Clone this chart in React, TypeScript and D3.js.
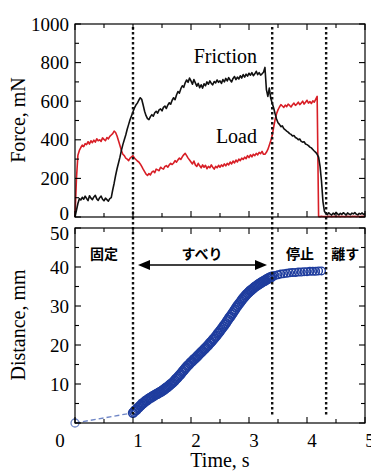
import React from "react";
import * as d3 from "d3";

const TIME_STEP = 0.025;

const friction = [
  0, 35, 70, 95, 88,
  102, 92, 108, 96, 85, 110, 98, 90, 104, 112, 94, 86, 100, 108, 92, 84, 98, 90, 82, 95,
  100, 140, 175, 215, 250, 280, 310, 345, 375, 400, 425, 455, 480, 505, 525, 545,
  565, 580, 590, 605, 618, 610, 580, 548, 525, 510, 505, 520,
  530, 522, 540, 548, 538, 555, 560, 550, 568, 575, 562, 580, 592, 585, 605, 618, 608, 632, 650, 642, 665, 680, 672, 695,
  710, 698, 720, 705, 688, 712, 695, 678, 692, 670, 685, 668, 690, 680, 700, 688, 705, 692, 685, 702,
  695, 710, 698, 705, 692, 712, 700, 718, 705, 722, 710, 700, 718, 728, 712, 725, 715, 732, 720, 738,
  725, 740, 730, 745, 735, 748, 732, 742, 755, 738, 748, 735, 742, 750,
  775, 660, 625, 668, 615, 590, 565, 535, 508, 488, 480, 468, 472, 458, 452, 445, 440, 432, 428, 420,
  422, 412, 408, 400, 404, 392, 388, 390, 378, 375, 370, 362, 358, 350, 342, 335, 325, 310, 262, 185,
  80, 30,
  18, 12, 22, 15, 10, 20, 14, 24, 16, 11, 19, 13, 22, 17, 10, 21, 15, 12, 20, 16, 23, 14, 11, 19, 15, 21, 13, 18,
];

const load = [
  0, 200, 320, 345, 360,
  372, 365, 380, 375, 390, 378, 395, 385, 398, 388, 405, 395, 400, 392, 410, 402, 395, 412, 405, 418,
  425, 432, 445, 438, 420, 395, 370, 345, 325, 318, 305, 300, 292, 305, 312, 318,
  305, 298, 290, 285, 275, 262, 248, 235, 222, 215, 225, 218,
  232, 238, 230, 248, 244, 240, 258, 252, 248, 262, 266, 258, 270, 278, 272, 280, 292, 284, 296, 305, 298, 312, 322, 330,
  318, 305, 295, 285, 275, 290, 270, 262, 278, 265, 255, 270, 258, 268, 250, 262, 255, 270, 258, 248,
  262, 255, 268, 258, 270, 262, 275, 265, 278, 270, 285, 275, 290, 280, 295, 285, 300, 292, 305, 298,
  310, 302, 318, 308, 322, 312, 325, 318, 330, 322, 335, 328, 340, 325,
  325, 335, 350, 372, 395, 422, 465, 505, 535, 555, 570, 582, 575, 568, 580, 572, 585, 578, 570, 582,
  590, 578, 585, 595, 582, 590, 600, 585, 595, 605, 590, 598, 588, 602, 595, 610, 625, 3, 2, 4,
  3, 2,
  3, 2, 4, 3, 2, 3, 4, 2, 3, 3, 2, 4, 3, 2, 3, 4, 3, 2, 3, 3, 4, 2, 3, 3, 2, 4, 3, 3,
];

// distance during sliding: t = 1.00 .. 3.40, every 0.02 s
const SLIP_START = 1.0;
const SLIP_STEP = 0.02;
const slipDistance = [
  2.6, 2.9, 3.3, 3.4, 3.8, 4.0, 4.4, 4.6, 5.0, 5.1,
  5.4, 5.7, 5.8, 6.1, 6.3, 6.5, 6.6, 6.9, 7.0, 7.2,
  7.4, 7.5, 7.7, 7.9, 8.0, 8.2, 8.5, 8.6, 8.9, 9.1,
  9.3, 9.6, 9.8, 10.1, 10.3, 10.6, 10.9, 11.3, 11.5, 11.9,
  12.2, 12.5, 12.9, 13.3, 13.6, 14.0, 14.3, 14.7, 14.9, 15.3,
  15.6, 15.8, 16.2, 16.4, 16.7, 17.0, 17.3, 17.6, 17.9, 18.2,
  18.5, 18.8, 19.1, 19.4, 19.7, 20.0, 20.4, 20.7, 21.0, 21.4,
  21.7, 22.1, 22.4, 22.9, 23.2, 23.6, 24.0, 24.4, 24.8, 25.2,
  25.6, 26.1, 26.5, 27.0, 27.3, 27.8, 28.2, 28.7, 29.1, 29.6,
  30.0, 30.4, 30.8, 31.2, 31.6, 32.0, 32.3, 32.7, 33.0, 33.3,
  33.6, 33.9, 34.1, 34.4, 34.6, 34.9, 35.1, 35.3, 35.5, 35.7,
  35.9, 36.1, 36.3, 36.4, 36.6, 36.8, 37.0, 37.1, 37.3, 37.4,
  37.6,
];

// distance while stopped: t = 3.45 .. 4.25, every 0.05 s
const STOP_START = 3.45;
const STOP_STEP = 0.05;
const stopDistance = [
  37.8, 38.0, 38.2, 38.3, 38.4, 38.5, 38.6, 38.6, 38.7, 38.7, 38.8, 38.8, 38.9, 38.9, 38.9, 39.0, 39.0,
];

// approach segment (dashed)
const approachTimes = [0, 1.0];
const approachDistance = [0, 2.6];

const boundaryTimes = [1.0, 3.4, 4.33];
const forceTicks = [0, 200, 400, 600, 800, 1000];
const distanceTicks = [10, 20, 30, 40, 50];
const timeTicks = [0, 1, 2, 3, 4, 5];
const phaseLabels = ["固定", "すべり", "停止", "離す"];
const seriesLabels = ["Friction", "Load"];

const SERIF = "'Liberation Serif', 'Times New Roman', serif";
const JP = "'Noto Sans CJK JP', sans-serif";

export default function App() {
  const x = d3.scaleLinear().domain([0, 5]).range([75, 365]);
  const yF = d3.scaleLinear().domain([0, 1000]).range([217, 24]);
  const yD = d3.scaleLinear().domain([0, 50]).range([423, 228]);

  const forceLine = d3
    .line<number>()
    .x((_, i) => x(i * TIME_STEP))
    .y((d) => yF(d));

  const approachLine = d3
    .line<number>()
    .x((_, i) => x(approachTimes[i]))
    .y((d) => yD(d));

  const slipPts = slipDistance.map((d, i) => [x(SLIP_START + i * SLIP_STEP), yD(d)]);
  const stopPts = stopDistance.map((d, i) => [x(STOP_START + i * STOP_STEP), yD(d)]);

  const xMinor = d3.range(0, 5.001, 0.5);
  const fMinor = d3.range(0, 1000.1, 100);
  const dMinor = d3.range(0, 50.1, 5);

  const tickLines: React.ReactElement[] = [];
  const addXTicks = (yBottom: number, yTop: number, key: string) => {
    xMinor.forEach((t) => {
      const major = Math.abs(t - Math.round(t)) < 1e-6;
      const len = major ? 6 : 4;
      const px = x(t);
      tickLines.push(
        <line key={`${key}b${t}`} x1={px} x2={px} y1={yBottom} y2={yBottom - len} stroke="#000" strokeWidth={1.1} />,
        <line key={`${key}t${t}`} x1={px} x2={px} y1={yTop} y2={yTop + len} stroke="#000" strokeWidth={1.1} />
      );
    });
  };
  const addYTicks = (vals: number[], scale: (v: number) => number, majorStep: number, key: string) => {
    vals.forEach((v) => {
      const major = Math.abs(v / majorStep - Math.round(v / majorStep)) < 1e-6;
      const len = major ? 6 : 4;
      const py = scale(v);
      tickLines.push(
        <line key={`${key}l${v}`} x1={75} x2={75 + len} y1={py} y2={py} stroke="#000" strokeWidth={1.1} />,
        <line key={`${key}r${v}`} x1={365} x2={365 - len} y1={py} y2={py} stroke="#000" strokeWidth={1.1} />
      );
    });
  };
  addXTicks(217, 24, "tx");
  addXTicks(423, 228, "bx");
  addYTicks(fMinor, yF, 200, "fy");
  addYTicks(dMinor, yD, 10, "dy");

  const arrowY = 265;
  const arrowL = 138;
  const arrowR = 267;

  return (
    <div style={{ position: "absolute", left: 0, top: 0, background: "#fff" }}>
      <svg width={371} height={472} style={{ display: "block" }}>
        <rect x={0} y={0} width={371} height={472} fill="#fff" />

        {/* Force lines */}
        <path d={forceLine(load) || ""} fill="none" stroke="#d81e26" strokeWidth={1.6} strokeLinejoin="round" />
        <path d={forceLine(friction) || ""} fill="none" stroke="#111" strokeWidth={1.6} strokeLinejoin="round" />

        {/* distance */}
        <path
          d={approachLine(approachDistance) || ""}
          fill="none"
          stroke="#6f86c6"
          strokeWidth={1.3}
          strokeDasharray="5 3"
        />
        <circle cx={x(approachTimes[0])} cy={yD(approachDistance[0])} r={4} fill="none" stroke="#6f86c6" strokeWidth={1.3} />
        {slipPts.map((p, i) => (
          <circle key={`s${i}`} cx={p[0]} cy={p[1]} r={4.4} fill="none" stroke="#1f3d9e" strokeWidth={1.6} />
        ))}
        {stopPts.map((p, i) => (
          <circle key={`p${i}`} cx={p[0]} cy={p[1]} r={3.8} fill="none" stroke="#1f3d9e" strokeWidth={1.4} />
        ))}

        {/* boundaries */}
        {boundaryTimes.map((t, i) => (
          <line
            key={`bd${i}`}
            x1={x(t)}
            x2={x(t)}
            y1={27}
            y2={416}
            stroke="#111"
            strokeWidth={2.4}
            strokeDasharray="2.4 2.6"
          />
        ))}

        {/* frames */}
        <rect x={75} y={24} width={290} height={193} fill="none" stroke="#000" strokeWidth={1.2} />
        <rect x={75} y={228} width={290} height={195} fill="none" stroke="#000" strokeWidth={1.2} />
        {tickLines}

        {/* tick labels */}
        {forceTicks.map((v) => (
          <text
            key={`fl${v}`}
            x={69}
            y={yF(v) + (v === 0 ? -4 : 0)}
            dy="0.35em"
            textAnchor="end"
            fontFamily={SERIF}
            fontSize={19}
          >
            {v}
          </text>
        ))}
        {distanceTicks.map((v) => (
          <text
            key={`dl${v}`}
            x={69}
            y={yD(v) + (v === 50 ? 5 : 0)}
            dy="0.35em"
            textAnchor="end"
            fontFamily={SERIF}
            fontSize={19}
          >
            {v}
          </text>
        ))}
        {timeTicks.map((v) => (
          <text
            key={`tl${v}`}
            x={v === 0 ? 60 : x(v) + 5}
            y={447}
            textAnchor="middle"
            fontFamily={SERIF}
            fontSize={19}
          >
            {v}
          </text>
        ))}

        {/* axis titles */}
        <text transform="translate(25,120) rotate(-90)" textAnchor="middle" fontFamily={SERIF} fontSize={20}>
          Force, mN
        </text>
        <text transform="translate(25,325) rotate(-90)" textAnchor="middle" fontFamily={SERIF} fontSize={20}>
          Distance, mm
        </text>
        <text x={220} y={467} textAnchor="middle" fontFamily={SERIF} fontSize={20}>
          Time, s
        </text>

        {/* series labels */}
        <text x={257} y={63} textAnchor="end" fontFamily={SERIF} fontSize={20}>
          {seriesLabels[0]}
        </text>
        <text x={257} y={143} textAnchor="end" fontFamily={SERIF} fontSize={20}>
          {seriesLabels[1]}
        </text>

        {/* phase labels */}
        <text x={x(0.5)} y={259} textAnchor="middle" fontFamily={JP} fontSize={14} fontWeight={700}>
          {phaseLabels[0]}
        </text>
        <text x={x(2.19)} y={259} textAnchor="middle" fontFamily={JP} fontSize={14} fontWeight={700}>
          {phaseLabels[1]}
        </text>
        <text x={x(3.88)} y={259} textAnchor="middle" fontFamily={JP} fontSize={14} fontWeight={700}>
          {phaseLabels[2]}
        </text>
        <text x={x(4.66)} y={259} textAnchor="middle" fontFamily={JP} fontSize={14} fontWeight={700}>
          {phaseLabels[3]}
        </text>

        {/* double arrow */}
        <line x1={arrowL + 10} x2={arrowR - 10} y1={arrowY} y2={arrowY} stroke="#000" strokeWidth={1.6} />
        <path d={`M${arrowL},${arrowY} L${arrowL + 12},${arrowY - 5} L${arrowL + 12},${arrowY + 5} Z`} fill="#000" />
        <path d={`M${arrowR},${arrowY} L${arrowR - 12},${arrowY - 5} L${arrowR - 12},${arrowY + 5} Z`} fill="#000" />
      </svg>
    </div>
  );
}
